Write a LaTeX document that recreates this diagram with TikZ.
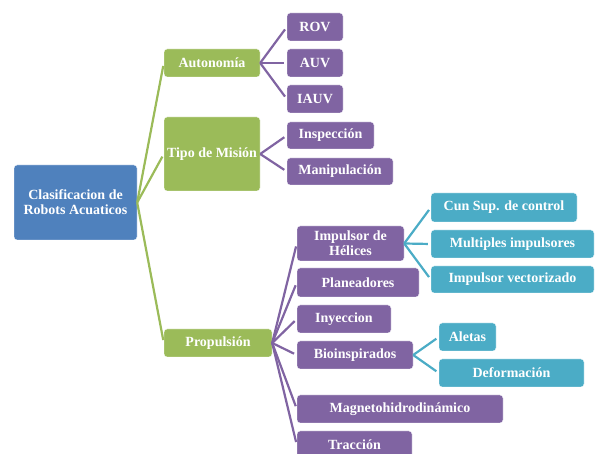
\documentclass[tikz,border=0pt]{standalone}
\usepackage{fontspec}
\setmainfont{Liberation Serif}
\usetikzlibrary{calc}
\definecolor{rootblue}{HTML}{4F81BD}
\definecolor{lvgreen}{HTML}{9BBB59}
\definecolor{lvpurple}{HTML}{8064A2}
\definecolor{lvteal}{HTML}{4BACC6}
\tikzset{
  box/.style={rounded corners=3pt, draw=white, line width=0.4pt, text=white,
    font=\fontsize{14}{15}\selectfont\bfseries, align=center, inner sep=0pt},
  rootbox/.style={box, fill=rootblue},
  greenbox/.style={box, fill=lvgreen},
  purplebox/.style={box, fill=lvpurple},
  tealbox/.style={box, fill=lvteal},
  link/.style={line width=2.2pt, shorten >=3pt},
  glink/.style={link, draw=lvgreen},
  plink/.style={link, draw=lvpurple},
  tlink/.style={link, draw=lvteal},
}
\begin{document}
\begin{tikzpicture}[x=1pt,y=-1pt]
\useasboundingbox (0,0) rectangle (595,454);
\clip (0,0) rectangle (595,454);

% root
\node[rootbox, minimum width=123, minimum height=75] (root) at (75.5,202.5)
  {Clasificacion de\\Robots Acuaticos};

% first level
\node[greenbox, minimum width=96, minimum height=28] (aut) at (212,63) {Autonom\'ia};
\node[greenbox, minimum width=96, minimum height=74] (tipo) at (212,154) {Tipo de Misi\'on};
\node[greenbox, minimum width=108, minimum height=28] (prop) at (218,343) {Propulsi\'on};

% autonomy levels
\node[purplebox, minimum width=56, minimum height=28] (rov) at (315,27) {ROV};
\node[purplebox, minimum width=56, minimum height=28] (auv) at (315,63) {AUV};
\node[purplebox, minimum width=56, minimum height=28] (iauv) at (315,99) {IAUV};

% mission types
\node[purplebox, minimum width=87, minimum height=27] (insp) at (330.5,135.5) {Inspecci\'on};
\node[purplebox, minimum width=106, minimum height=27] (mani) at (340,171.5) {Manipulaci\'on};

% propulsion types
\node[purplebox, minimum width=107, minimum height=35] (heli) at (350.5,243.5) {Impulsor de\\H\'elices};
\node[purplebox, minimum width=122, minimum height=29] (plan) at (358,282.5) {Planeadores};
\node[purplebox, minimum width=94, minimum height=28] (inye) at (344,319) {Inyeccion};
\node[purplebox, minimum width=116, minimum height=28] (bio) at (355,355) {Bioinspirados};
\node[purplebox, minimum width=206, minimum height=28] (mhd) at (400,409) {Magnetohidrodin\'amico};
\node[purplebox, minimum width=115, minimum height=28] (trac) at (354.5,445) {Tracci\'on};

% propeller variants
\node[tealbox, minimum width=146, minimum height=29] (cun) at (504,207.5) {Cun Sup. de control};
\node[tealbox, minimum width=163, minimum height=28] (mult) at (512.5,244) {Multiples impulsores};
\node[tealbox, minimum width=163, minimum height=27] (vect) at (512.5,279.5) {Impulsor vectorizado};

% bio-inspired variants
\node[tealbox, minimum width=57, minimum height=28] (alet) at (467.5,337) {Aletas};
\node[tealbox, minimum width=145, minimum height=28] (defo) at (511.5,373) {Deformaci\'on};

% connectors
\foreach \c in {aut,tipo,prop} \draw[glink] (root.east) -- (\c.west);
\foreach \c in {rov,auv,iauv} \draw[plink] (aut.east) -- (\c.west);
\foreach \c in {insp,mani} \draw[plink] (tipo.east) -- (\c.west);
\foreach \c in {heli,plan,inye,bio,mhd,trac} \draw[plink] (prop.east) -- (\c.west);
\foreach \c in {cun,mult,vect} \draw[tlink] (heli.east) -- (\c.west);
\foreach \c in {alet,defo} \draw[tlink] (bio.east) -- (\c.west);
\end{tikzpicture}
\end{document}
